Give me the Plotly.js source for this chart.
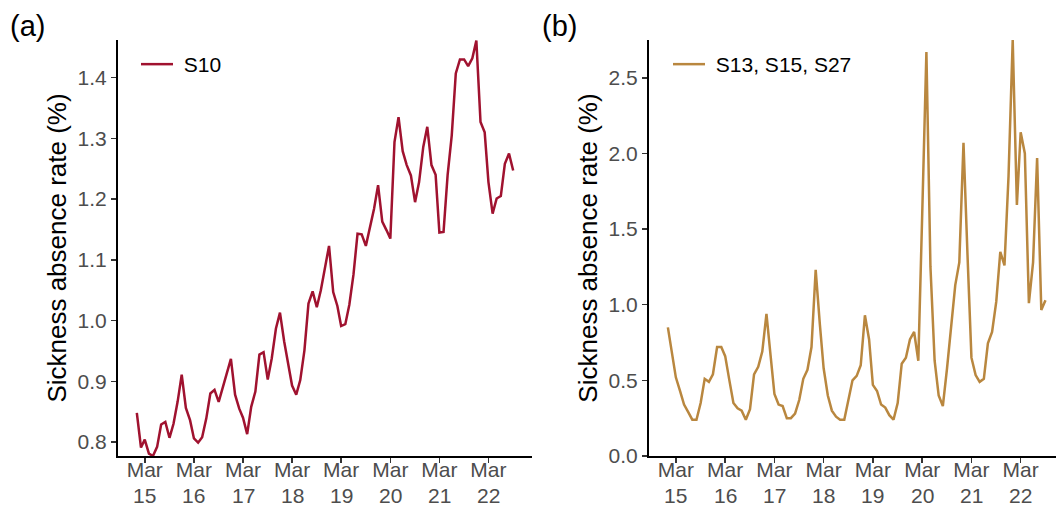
<!DOCTYPE html>
<html>
<head>
<meta charset="utf-8">
<script src="https://cdn.plot.ly/plotly-3.0.1.min.js"></script>
<style>html,body{margin:0;padding:0;background:#fff;}#chart{width:1056px;height:506px;}</style>
</head>
<body>
<div id="chart"></div>
<script>
// Monthly series, Jan 2015 .. Sep 2022 (93 months)
const startYear = 2015, startMonth = 1, nMonths = 93;

const s10 = [
  0.848, 0.791, 0.804, 0.781, 0.777, 0.792, 0.829, 0.833, 0.807, 0.830, 0.867, 0.911,
  0.856, 0.836, 0.806, 0.799, 0.808, 0.839, 0.880, 0.886, 0.866, 0.888, 0.913, 0.937,
  0.878, 0.855, 0.840, 0.813, 0.858, 0.883, 0.944, 0.948, 0.903, 0.938, 0.987, 1.013,
  0.966, 0.926, 0.893, 0.878, 0.902, 0.951, 1.028, 1.048, 1.022, 1.050, 1.086, 1.123,
  1.047, 1.024, 0.991, 0.994, 1.026, 1.076, 1.143, 1.142, 1.123, 1.151, 1.184, 1.223,
  1.163, 1.149, 1.135, 1.294, 1.335, 1.279, 1.256, 1.239, 1.195, 1.228, 1.286, 1.319,
  1.256, 1.240, 1.145, 1.146, 1.239, 1.305, 1.407, 1.430, 1.430, 1.419, 1.432, 1.461,
  1.327, 1.310, 1.228, 1.176, 1.201, 1.205, 1.258, 1.275, 1.247
];

const s13_15_27 = [
  0.85, 0.66, 0.52, 0.43, 0.34, 0.29, 0.24, 0.24, 0.35, 0.51, 0.49, 0.54,
  0.72, 0.72, 0.66, 0.50, 0.35, 0.315, 0.30, 0.24, 0.31, 0.54, 0.59, 0.69,
  0.94, 0.66, 0.41, 0.34, 0.33, 0.25, 0.25, 0.28, 0.37, 0.51, 0.57, 0.72,
  1.23, 0.87, 0.58, 0.40, 0.30, 0.26, 0.24, 0.24, 0.37, 0.50, 0.53, 0.60,
  0.93, 0.77, 0.47, 0.43, 0.34, 0.32, 0.27, 0.24, 0.35, 0.61, 0.65, 0.77,
  0.82, 0.63, 1.60, 2.67, 1.25, 0.63, 0.40, 0.33, 0.58, 0.85, 1.13, 1.28,
  2.07, 1.30, 0.65, 0.535, 0.49, 0.51, 0.745, 0.82, 1.02, 1.35, 1.26, 1.85,
  2.75, 1.66, 2.14, 2.00, 1.01, 1.28, 1.97, 0.965, 1.03
];

const tickDates = ["2015-03-01","2016-03-01","2017-03-01","2018-03-01","2019-03-01","2020-03-01","2021-03-01","2022-03-01"];
const tickMonth = ["Mar","Mar","Mar","Mar","Mar","Mar","Mar","Mar"];
const tickYear = ["15","16","17","18","19","20","21","22"];
const yTicksA = [0.8, 0.9, 1.0, 1.1, 1.2, 1.3, 1.4];
const yTicksB = [0.0, 0.5, 1.0, 1.5, 2.0, 2.5];

const dates = [];
for (let i = 0; i < nMonths; i++) {
  const m = startMonth - 1 + i;
  const y = startYear + Math.floor(m / 12);
  const mm = (m % 12) + 1;
  dates.push(y + "-" + (mm < 10 ? "0" + mm : mm) + "-01");
}

const FONT = "Liberation Sans, Arial, Helvetica, sans-serif";
const colA = "#A0122F", colB = "#B9873F";
const TICKF = {family: FONT, size: 21, color: "#4D4D4D"};

const traces = [
  {x: dates, y: s10, type: "scatter", mode: "lines", name: "\u00a0S10",
   line: {color: colA, width: 2.5}, xaxis: "x", yaxis: "y", legend: "legend"},
  {x: dates, y: s13_15_27, type: "scatter", mode: "lines", name: "\u00a0S13, S15, S27",
   line: {color: colB, width: 2.5}, xaxis: "x2", yaxis: "y2", legend: "legend2"}
];

function xax(domain, range) {
  return {
    domain: domain, type: "date", range: range,
    tickmode: "array", tickvals: tickDates, ticktext: tickMonth,
    ticks: "outside", ticklen: 5, tickwidth: 1.5, tickcolor: "#333",
    ticklabelstandoff: -11,
    showline: true, linecolor: "#000", linewidth: 2, showgrid: false, zeroline: false,
    tickfont: TICKF, fixedrange: true
  };
}
function yax(domain, range, tv, anchor) {
  return {
    domain: domain, range: range, anchor: anchor,
    tickmode: "array", tickvals: tv, tickformat: ".1f",
    ticks: "outside", ticklen: 5, tickwidth: 1.5, tickcolor: "#333",
    showline: true, linecolor: "#000", linewidth: 2, showgrid: false, zeroline: false,
    tickfont: TICKF,
    title: {text: "Sickness absence rate (%)", font: {family: FONT, size: 26, color: "#000"}, standoff: 3},
    automargin: false
  };
}

const yDom = [1 - 456/506, 1 - 40/506];
const annotations = [
  {text: "(a)", xref: "paper", yref: "paper", x: 8/1056, y: 1 - 8/506, xanchor: "left", yanchor: "top",
   showarrow: false, font: {family: FONT, size: 29, color: "#000"}},
  {text: "(b)", xref: "paper", yref: "paper", x: 540/1056, y: 1 - 8/506, xanchor: "left", yanchor: "top",
   showarrow: false, font: {family: FONT, size: 29, color: "#000"}}
];
["x", "x2"].forEach(function (ax) {
  tickDates.forEach(function (d, i) {
    annotations.push({text: tickYear[i], xref: ax, yref: "paper", x: d, y: 1 - 495/506,
      xanchor: "center", yanchor: "middle", showarrow: false, font: TICKF});
  });
});

const layout = {
  width: 1056, height: 506,
  margin: {l: 0, r: 0, t: 0, b: 0},
  paper_bgcolor: "#fff", plot_bgcolor: "#fff",
  font: {family: FONT},
  xaxis: Object.assign(xax([118/1056, 532/1056], ["2014-08-14", "2023-01-19"]), {anchor: "y"}),
  yaxis: yax(yDom, [0.777, 1.462], yTicksA, "x"),
  xaxis2: Object.assign(xax([649/1056, 1], ["2014-08-14", "2022-11-18"]), {anchor: "y2"}),
  yaxis2: yax(yDom, [0, 2.75], yTicksB, "x2"),
  legend: {x: 136/1056, y: 1 - 44/506, xanchor: "left", yanchor: "top", itemwidth: 32,
           bgcolor: "rgba(0,0,0,0)", font: {family: FONT, size: 21, color: "#000"}},
  legend2: {x: 668/1056, y: 1 - 44/506, xanchor: "left", yanchor: "top", itemwidth: 32,
            bgcolor: "rgba(0,0,0,0)", font: {family: FONT, size: 21, color: "#000"}},
  annotations: annotations,
  showlegend: true
};

Plotly.newPlot("chart", traces, layout, {displayModeBar: false, staticPlot: true});
</script>
</body>
</html>
